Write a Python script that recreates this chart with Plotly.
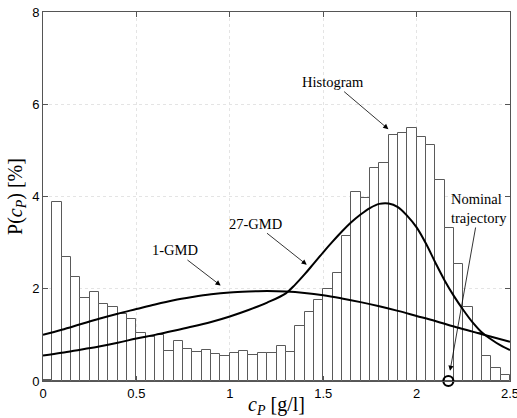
import plotly.graph_objects as go

# ---------------- data ----------------
bin_width = 0.05
bin_centers = [round(0.025 + 0.05 * i, 3) for i in range(50)]
hist_values = [0.03, 3.88, 2.68, 2.25, 1.80, 1.93, 1.66, 1.60, 1.46, 1.35,
               1.03, 0.95, 0.99, 0.66, 0.86, 0.70, 0.62, 0.67, 0.59, 0.54,
               0.61, 0.65, 0.57, 0.61, 0.61, 0.75, 0.63, 1.20, 1.49, 1.75,
               1.99, 2.34, 3.14, 4.10, 3.97, 4.62, 4.72, 5.33, 5.38, 5.49,
               5.28, 5.11, 4.36, 3.32, 2.54, 1.60, 1.05, 0.54, 0.28, 0.13]

gmd1_x = [0.0, 0.1, 0.2, 0.3, 0.4, 0.5, 0.6, 0.7, 0.8, 0.9, 1.0, 1.1, 1.2,
          1.3, 1.4, 1.5, 1.6, 1.7, 1.8, 1.9, 2.0, 2.1, 2.2, 2.3, 2.4, 2.5]
gmd1_y = [1.00, 1.11, 1.23, 1.35, 1.46, 1.56, 1.66, 1.75, 1.82, 1.88, 1.92,
          1.94, 1.95, 1.94, 1.91, 1.86, 1.79, 1.71, 1.62, 1.52, 1.41, 1.30,
          1.18, 1.07, 0.96, 0.85]

gmd27_x = [0.0, 0.1, 0.2, 0.3, 0.4, 0.5, 0.6, 0.7, 0.8, 0.9, 1.0, 1.1, 1.2,
           1.3, 1.35, 1.4, 1.45, 1.5, 1.55, 1.6, 1.65, 1.7, 1.75, 1.8, 1.85,
           1.9, 1.95, 2.0, 2.05, 2.1, 2.15, 2.2, 2.25, 2.3, 2.35, 2.4, 2.45, 2.5]
gmd27_y = [0.55, 0.61, 0.68, 0.75, 0.83, 0.92, 1.00, 1.09, 1.18, 1.28, 1.40,
           1.54, 1.70, 1.90, 2.09, 2.31, 2.55, 2.79, 3.02, 3.24, 3.44, 3.61,
           3.75, 3.84, 3.85, 3.77, 3.58, 3.33, 2.98, 2.57, 2.18, 1.84, 1.54,
           1.27, 1.05, 0.90, 0.77, 0.67]

nominal_x = [2.17]
nominal_y = [0.0]

x_ticks = [0, 0.5, 1, 1.5, 2, 2.5]
x_tick_labels = ["0", "0.5", "1", "1.5", "2", "2.5"]
y_ticks = [0, 2, 4, 6, 8]
y_tick_labels = ["0", "2", "4", "6", "8"]

# ---------------- figure ----------------
fig = go.Figure()

fig.add_trace(go.Bar(
    x=bin_centers, y=hist_values, width=bin_width,
    marker=dict(color="white", line=dict(color="#5a5a5a", width=1)),
    showlegend=False, hoverinfo="skip"))

fig.add_trace(go.Scatter(
    x=gmd1_x, y=gmd1_y, mode="lines", line=dict(color="black", width=2, shape="spline"),
    showlegend=False, hoverinfo="skip"))

fig.add_trace(go.Scatter(
    x=gmd27_x, y=gmd27_y, mode="lines", line=dict(color="black", width=2, shape="spline"),
    showlegend=False, hoverinfo="skip"))

fig.add_trace(go.Scatter(
    x=nominal_x, y=nominal_y, mode="markers", cliponaxis=False,
    marker=dict(symbol="circle-open", size=10, color="black", line=dict(width=2.2, color="black")),
    showlegend=False, hoverinfo="skip"))

serif = "Liberation Serif, Times New Roman, serif"
ann_font = dict(family=serif, size=14.5, color="black")

def callout(text, tx, ty, hx, hy):
    # text centred at (tx, ty); arrow head at (hx, hy), both in data coordinates
    fig.add_annotation(x=hx, y=hy, ax=tx, ay=ty, xref="x", yref="y", axref="x", ayref="y",
                       text=text, font=ann_font, align="left",
                       showarrow=True, arrowhead=2, arrowsize=1.3, arrowwidth=0.8,
                       arrowcolor="black", standoff=0, startstandoff=0)

callout("Histogram", 1.552, 6.48, 1.849, 5.46)
callout("27-GMD", 1.135, 3.41, 1.412, 2.52)
callout("1-GMD", 0.707, 2.83, 0.951, 2.07)
callout("Nominal<br>trajectory", 2.334, 3.74, 2.179, 0.22)

axis_common = dict(
    showline=True, linecolor="#555555", linewidth=1, mirror="ticks",
    ticks="inside", ticklen=5, tickcolor="#555555",
    showgrid=True, gridcolor="#e4e4e4", griddash="dot", gridwidth=1,
    zeroline=False, automargin=False, ticklabeloverflow="allow",
    tickfont=dict(family="Liberation Sans, Arial, sans-serif", size=13, color="black"),
)

fig.update_xaxes(range=[0, 2.5], tickvals=x_ticks, ticktext=x_tick_labels,
                 title=dict(text="<i>c</i><sub><i>P</i></sub> [g/l]",
                            font=dict(family=serif, size=20, color="black"), standoff=0),
                 **axis_common)
fig.update_yaxes(range=[0, 8], tickvals=y_ticks, ticktext=y_tick_labels,
                 title=dict(text="P(<i>c</i><sub><i>P</i></sub>) [%]",
                            font=dict(family=serif, size=20, color="black"), standoff=4),
                 **axis_common)

fig.update_layout(
    width=517, height=418,
    margin=dict(l=43, r=7, t=12, b=37),
    paper_bgcolor="white", plot_bgcolor="white",
    bargap=0, showlegend=False,
)

# remove the page's default body margin so the figure fills the window exactly
fig.write_html("out.html", config={"displayModeBar": False},
               post_script="document.body.style.margin='0';document.body.style.overflow='hidden';")
